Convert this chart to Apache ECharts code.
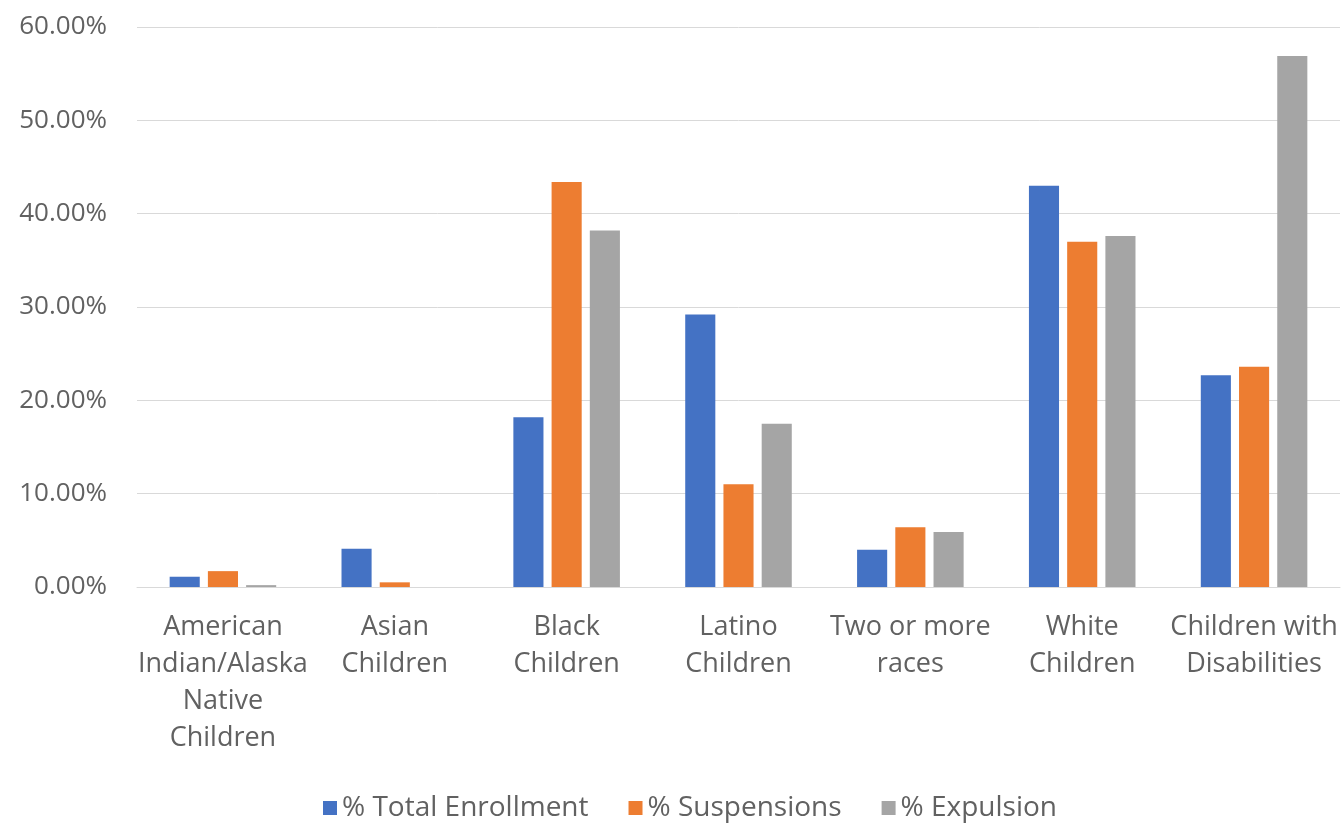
<!DOCTYPE html>
<html><head><meta charset="utf-8">
<script src="https://cdn.jsdelivr.net/npm/echarts@6/dist/echarts.min.js"></script>
<style>html,body{margin:0;padding:0;background:#fff}#c{width:1344px;height:824px}</style>
</head><body><div id="c"></div>
<script>
var categories = ['American\nIndian/Alaska\nNative\nChildren','Asian\nChildren','Black\nChildren','Latino\nChildren','Two or more\nraces','White\nChildren','Children with\nDisabilities'];
var enrollment = [1.1, 4.1, 18.2, 29.2, 4.0, 43.0, 22.7];
var suspensions = [1.7, 0.5, 43.4, 11.0, 6.4, 37.0, 23.6];
var expulsion = [0.2, 0.0, 38.2, 17.5, 5.9, 37.6, 56.9];
var yTicks = {min: 0, max: 60, interval: 10};
var font = '"Open Sans", "Noto Sans", sans-serif';
var chart = echarts.init(document.getElementById('c'));
function s(name, data, color){return {name:name,type:'bar',data:data,itemStyle:{color:color},barGap:'27%',barCategoryGap:'38%'};}
chart.setOption({
  animation:false,
  textStyle:{fontFamily:font},
  grid:{left:137,right:4,top:27,bottom:237},
  legend:{top:785,left:318,itemWidth:14,itemHeight:14,itemGap:40,icon:'rect',
    textStyle:{fontSize:28,lineHeight:36,color:'#616161',fontFamily:font},
    data:['% Total Enrollment','% Suspensions','% Expulsion']},
  xAxis:{type:'category',data:categories,
    axisLine:{lineStyle:{color:'#d9d9d9'}},axisTick:{show:false},
    axisLabel:{interval:0,fontSize:27,color:'#616161',lineHeight:37,margin:22,fontFamily:font}},
  yAxis:{type:'value',min:yTicks.min,max:yTicks.max,interval:yTicks.interval,
    axisLabel:{formatter:function(v){return v.toFixed(2)+'%';},fontSize:26,color:'#616161',margin:30,fontFamily:font},
    splitLine:{lineStyle:{color:'#d9d9d9',width:1}},axisLine:{show:false},axisTick:{show:false}},
  series:[s('% Total Enrollment',enrollment,'#4472C4'),s('% Suspensions',suspensions,'#ED7D31'),s('% Expulsion',expulsion,'#A5A5A5')]
});
</script></body></html>
